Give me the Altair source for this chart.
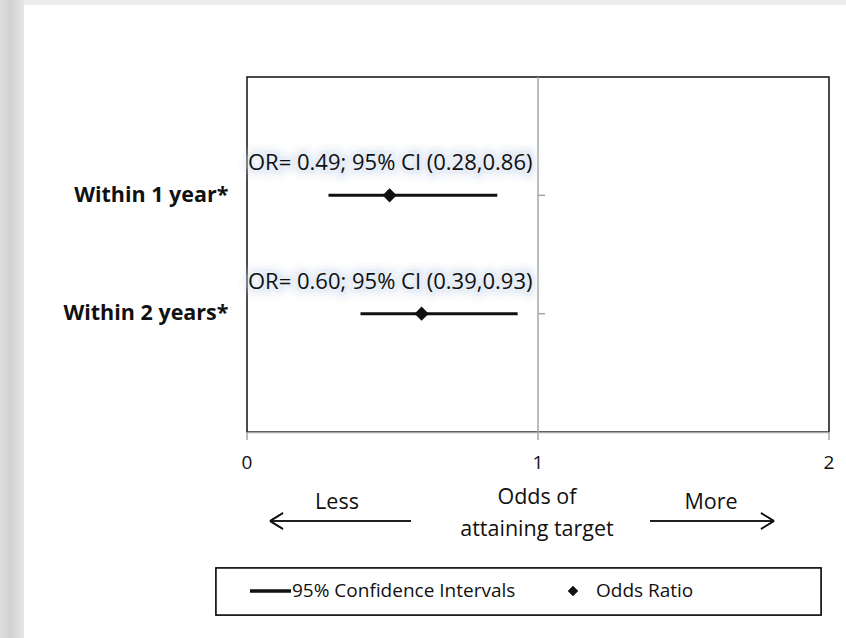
import altair as alt
import pandas as pd

# Forest plot data
categories = ["Within 1 year*", "Within 2 years*"]
odds_ratio = [0.49, 0.60]
ci_low = [0.28, 0.39]
ci_high = [0.86, 0.93]
x_ticks = [0, 1, 2]
ref_line = [1]

legend_labels = ["95% Confidence Intervals", "Odds Ratio"]

FONT = "Open Sans"
INK = "#111111"
GREY = "#a6a6a6"
GLOW = "#d3dff0"

df = pd.DataFrame({
    "category": categories,
    "or": odds_ratio,
    "lo": ci_low,
    "hi": ci_high,
})
df["label"] = [
    f"OR= {o:.2f}; 95% CI ({l:.2f},{h:.2f})"
    for o, l, h in zip(odds_ratio, ci_low, ci_high)
]
ticks_df = pd.DataFrame({"t": x_ticks})

# point scale with empty slots above and below the two rows
y_domain = [" ", *categories, "  "]
y_enc = alt.Y(
    "category:N",
    scale=alt.Scale(type="point", domain=y_domain, padding=0),
    axis=alt.Axis(
        title=None, ticks=False, domain=False, labelPadding=19,
        labelFont=FONT, labelFontSize=21.5, labelFontWeight="bold",
        labelColor=INK, grid=False,
    ),
)
x_scale = alt.Scale(domain=[0, 2], nice=False, zero=False)
x_axis = alt.Axis(
    title=None, grid=False, ticks=False, labels=False,
    domainColor=GREY, domainWidth=1.5,
)

base = alt.Chart(df)

# reference line at OR = 1 (carries the x axis line)
ref = alt.Chart(pd.DataFrame({"v": ref_line})).mark_rule(
    color=GREY, strokeWidth=1.5
).encode(x=alt.X("v:Q", scale=x_scale, axis=x_axis))

# x ticks and their labels below the axis line
x_tick_marks = alt.Chart(ticks_df).mark_rule(color=GREY, strokeWidth=1.5).encode(
    x=alt.X("t:Q", scale=x_scale), y=alt.value(355), y2=alt.value(363)
)
x_tick_labels = alt.Chart(ticks_df).mark_text(
    font=FONT, fontSize=19, color=INK, baseline="middle"
).encode(x=alt.X("t:Q", scale=x_scale), y=alt.value(386), text=alt.Text("t:Q", format="d"))

# short tick marks on the reference line
ref_ticks = base.mark_rule(color=GREY, strokeWidth=1.5).encode(
    x=alt.datum(1, scale=x_scale), x2=alt.value(298), y=y_enc
)

ci = base.mark_rule(color=INK, strokeWidth=3).encode(
    x=alt.X("lo:Q", scale=x_scale), x2="hi:Q", y=y_enc
)

pts = base.mark_point(
    shape="diamond", filled=True, color=INK, size=200, opacity=1
).encode(x=alt.X("or:Q", scale=x_scale), y=y_enc)

# soft pale-blue halo behind the estimate labels, built from stacked strokes
glow_layers = [
    base.mark_text(
        font=FONT, fontSize=22, align="left", dy=-32, color=GLOW,
        stroke=GLOW, strokeWidth=w, strokeOpacity=op, strokeJoin="round",
        opacity=op,
    ).encode(x=alt.value(1), y=y_enc, text="label:N")
    for w, op in [(22, 0.25), (15, 0.35), (8, 0.5)]
]

label_text = base.mark_text(
    font=FONT, fontSize=22, align="left", dy=-32, color=INK
).encode(x=alt.value(1), y=y_enc, text="label:N")


def seg(x1, y1, x2, y2, w=1.5):
    return alt.Chart(df).mark_rule(color=INK, strokeWidth=w).encode(
        x=alt.value(x1), y=alt.value(y1), x2=alt.value(x2), y2=alt.value(y2)
    )


def note(txt, x, y, size=21.5, align="center"):
    return alt.Chart(pd.DataFrame({"t": [txt]})).mark_text(
        font=FONT, fontSize=size, color=INK, align=align, baseline="middle"
    ).encode(x=alt.value(x), y=alt.value(y), text="t:N")


# direction annotations below the axis (offsets from the plot origin)
arrows = [
    seg(23, 444, 164, 444), seg(23, 444, 36, 436), seg(23, 444, 36, 452),
    seg(403, 444, 527, 444), seg(527, 444, 514, 436), seg(527, 444, 514, 452),
]
notes = [
    note("Less", 90, 426),
    note("Odds of", 290, 421),
    note("attaining target", 290, 453),
    note("More", 464, 426),
]

# legend box
legend_box = alt.Chart(df).mark_rect(
    fill="white", stroke=INK, strokeWidth=1.5
).encode(x=alt.value(-31), x2=alt.value(574), y=alt.value(491), y2=alt.value(538))
legend_line = seg(3, 514, 44, 514, w=3)
legend_diamond = alt.Chart(df).mark_point(
    shape="diamond", filled=True, color=INK, size=100, opacity=1
).encode(x=alt.value(326), y=alt.value(514))
legend_texts = [
    note(legend_labels[0], 45, 514, size=19, align="left"),
    note(legend_labels[1], 349, 514, size=19, align="left"),
]

# soft grey page edge
edge_left = alt.Chart(df).mark_rect(
    color=alt.LinearGradient(
        gradient="linear", x1=0, x2=1, y1=0, y2=0,
        stops=[
            alt.GradientStop(color="#dedede", offset=0),
            alt.GradientStop(color="#d2d2d2", offset=0.45),
            alt.GradientStop(color="#e6e6e6", offset=1),
        ],
    )
).encode(x=alt.value(-247), x2=alt.value(-223), y=alt.value(-77), y2=alt.value(561))
edge_top = alt.Chart(df).mark_rect(color="#ececec").encode(
    x=alt.value(-223), x2=alt.value(599), y=alt.value(-77), y2=alt.value(-72)
)

chart = alt.layer(
    ref, edge_left, edge_top, x_tick_marks, x_tick_labels, ref_ticks, ci, pts,
    *glow_layers, label_text, *arrows, *notes, legend_box, legend_line,
    legend_diamond, *legend_texts,
).properties(
    width=582,
    height=355,
    padding={"left": 247, "top": 77, "right": 17, "bottom": 206},
    autosize=alt.AutoSizeParams(type="none"),
    background="white",
).configure_view(
    stroke=INK, strokeWidth=1.5
)

chart.save("out.html", embed_options={"renderer": "svg", "actions": False})
